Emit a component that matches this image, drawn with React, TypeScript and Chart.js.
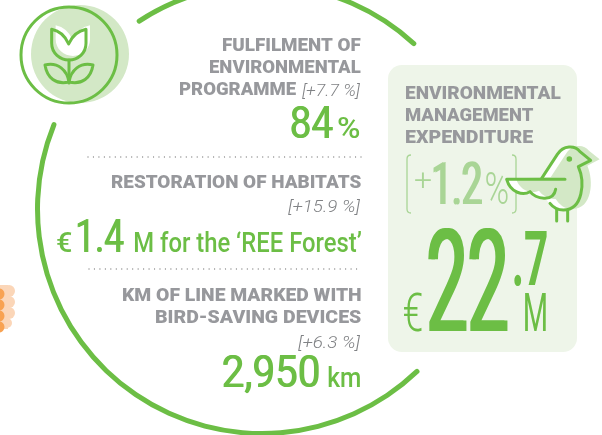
import React, { useEffect, useRef } from "react";
import { Chart, registerables } from "chart.js";

Chart.register(...registerables);

// Ring segments, degrees clockwise from the start of the upper stroke
const ringSegments = ["upper stroke", "gap right", "lower stroke", "gap left"];
const ringDegrees = [77, 92.5, 157, 33.5];
const ringStart = 326.2;

const fulfilmentHeading = ["FULFILMENT OF", "ENVIRONMENTAL", "PROGRAMME"];
const fulfilmentChange = "[+7.7 %]";
const fulfilmentValue = "84";
const fulfilmentUnit = "%";

const habitatsHeading = "RESTORATION OF HABITATS";
const habitatsChange = "[+15.9 %]";
const habitatsCurrency = "€";
const habitatsValue = "1.4";
const habitatsUnit = "M for the ‘REE Forest’";

const lineHeading = ["KM OF LINE MARKED WITH", "BIRD-SAVING DEVICES"];
const lineChange = "[+6.3 %]";
const lineValue = "2,950";
const lineUnit = "km";

const panelHeading = ["ENVIRONMENTAL", "MANAGEMENT", "EXPENDITURE"];
const panelChangeParts = ["+", "1.2", "%"];
const panelCurrency = "€";
const panelWhole = "22";
const panelDecimal = ".7";
const panelUnit = "M";

const GREEN = "#6cbe45";
const PALE = "#a9d596";
const GREY = "#97989c";
const ITALIC = "#808285";
const SHADE = "#d3e8c6";

function fit(
  ctx: CanvasRenderingContext2D,
  text: string,
  x0: number,
  x1: number,
  base: number,
  font: string,
  color: string,
  thicken = 0
) {
  ctx.save();
  ctx.font = font;
  ctx.fillStyle = color;
  ctx.textAlign = "left";
  ctx.textBaseline = "alphabetic";
  const m = ctx.measureText(text);
  const w = m.actualBoundingBoxRight + m.actualBoundingBoxLeft;
  const sx = (x1 - thicken - x0) / w;
  if (thicken) {
    ctx.shadowColor = color;
    ctx.shadowBlur = 0;
    ctx.shadowOffsetX = thicken;
  }
  ctx.translate(x0, base);
  ctx.scale(sx, 1);
  ctx.fillText(text, m.actualBoundingBoxLeft, 0);
  ctx.restore();
}

function dotted(ctx: CanvasRenderingContext2D, x0: number, x1: number, y: number) {
  ctx.save();
  ctx.strokeStyle = "#8a8a8a";
  ctx.lineWidth = 1.3;
  ctx.lineCap = "round";
  ctx.setLineDash([0.01, 5.45]);
  ctx.beginPath();
  ctx.moveTo(x0, y);
  ctx.lineTo(x1, y);
  ctx.stroke();
  ctx.restore();
}

function tulipPath(ctx: CanvasRenderingContext2D, dx: number, dy: number) {
  const X = (v: number) => v / 3 + dx;
  const Y = (v: number) => v / 3 + dy;
  ctx.beginPath();
  ctx.moveTo(X(155), Y(88));
  ctx.lineTo(X(155), Y(130));
  ctx.bezierCurveTo(X(155), Y(160), X(180), Y(180), X(207), Y(180));
  ctx.bezierCurveTo(X(234), Y(180), X(258), Y(160), X(258), Y(130));
  ctx.lineTo(X(258), Y(88));
  ctx.quadraticCurveTo(X(222), Y(95), X(206), Y(132));
  ctx.quadraticCurveTo(X(190), Y(95), X(155), Y(88));
  ctx.closePath();
}

function drawTulip(ctx: CanvasRenderingContext2D) {
  ctx.save();
  ctx.fillStyle = SHADE;
  ctx.beginPath();
  ctx.arc(80, 54, 49, 0, Math.PI * 2);
  ctx.fill();
  ctx.fillStyle = "#ffffff";
  tulipPath(ctx, 4, -4);
  ctx.fill();
  ctx.strokeStyle = GREEN;
  ctx.lineWidth = 3;
  ctx.lineJoin = "round";
  ctx.lineCap = "round";
  ctx.beginPath();
  ctx.arc(69, 55, 48, 0, Math.PI * 2);
  ctx.stroke();
  tulipPath(ctx, 0, 0);
  ctx.stroke();
  ctx.beginPath();
  ctx.moveTo(69, 60);
  ctx.lineTo(69, 83);
  ctx.stroke();
  ctx.beginPath();
  ctx.moveTo(45, 65);
  ctx.bezierCurveTo(58, 62, 67, 70, 69, 82);
  ctx.bezierCurveTo(56, 85, 47, 78, 45, 65);
  ctx.closePath();
  ctx.moveTo(93, 65);
  ctx.bezierCurveTo(80, 62, 71, 70, 69, 82);
  ctx.bezierCurveTo(82, 85, 91, 78, 93, 65);
  ctx.closePath();
  ctx.stroke();
  ctx.restore();
}

function birdPath(ctx: CanvasRenderingContext2D, dx: number, dy: number) {
  const X = (v: number) => 500 + v / 3 + dx;
  const Y = (v: number) => 135 + v / 3 + dy;
  ctx.beginPath();
  ctx.moveTo(X(125), Y(130));
  ctx.lineTo(X(172), Y(58));
  ctx.bezierCurveTo(X(190), Y(30), X(225), Y(30), X(240), Y(50));
  ctx.lineTo(X(272), Y(76));
  ctx.lineTo(X(235), Y(95));
  ctx.bezierCurveTo(X(255), Y(140), X(250), Y(225), X(190), Y(225));
  ctx.bezierCurveTo(X(165), Y(225), X(150), Y(210), X(140), Y(195));
  ctx.bezierCurveTo(X(120), Y(195), X(100), Y(185), X(90), Y(170));
  ctx.bezierCurveTo(X(70), Y(180), X(35), Y(175), X(20), Y(133));
  ctx.closePath();
}

function drawBird(ctx: CanvasRenderingContext2D) {
  const X = (v: number) => 500 + v / 3;
  const Y = (v: number) => 135 + v / 3;
  ctx.save();
  ctx.fillStyle = "#ffffff";
  birdPath(ctx, 0, 0);
  ctx.fill();
  ctx.fillStyle = SHADE;
  birdPath(ctx, 9, -1);
  ctx.fill();
  ctx.strokeStyle = GREEN;
  ctx.lineWidth = 3;
  ctx.lineCap = "round";
  ctx.lineJoin = "round";
  ctx.beginPath();
  ctx.moveTo(X(125), Y(130));
  ctx.lineTo(X(172), Y(58));
  ctx.bezierCurveTo(X(190), Y(30), X(225), Y(30), X(240), Y(50));
  ctx.lineTo(X(272), Y(76));
  ctx.lineTo(X(235), Y(95));
  ctx.bezierCurveTo(X(255), Y(140), X(250), Y(225), X(190), Y(225));
  ctx.bezierCurveTo(X(175), Y(225), X(160), Y(218), X(150), Y(205));
  ctx.stroke();
  ctx.beginPath();
  ctx.moveTo(X(195), Y(133));
  ctx.lineTo(X(20), Y(133));
  ctx.bezierCurveTo(X(32), Y(175), X(70), Y(182), X(90), Y(170));
  ctx.bezierCurveTo(X(105), Y(190), X(160), Y(205), X(167), Y(163));
  ctx.stroke();
  ctx.beginPath();
  ctx.moveTo(X(170), Y(225));
  ctx.lineTo(X(170), Y(258));
  ctx.moveTo(X(203), Y(225));
  ctx.lineTo(X(203), Y(258));
  ctx.stroke();
  ctx.fillStyle = GREEN;
  ctx.beginPath();
  ctx.arc(X(208), Y(72), 2.8, 0, Math.PI * 2);
  ctx.fill();
  ctx.restore();
}

function drawScallops(ctx: CanvasRenderingContext2D) {
  ctx.save();
  ctx.fillStyle = "#fbd6b8";
  [291, 302, 313, 323].forEach((y, i) => {
    ctx.beginPath();
    ctx.arc(i === 3 ? 7 : 9, y, i === 3 ? 5 : 6, 0, Math.PI * 2);
    ctx.fill();
  });
  ctx.fillRect(0, 285, 8, 44);
  ctx.fillStyle = "#f8a252";
  [294, 305, 316, 327].forEach((y) => {
    ctx.beginPath();
    ctx.arc(-1, y, 5.5, 0, Math.PI * 2);
    ctx.fill();
  });
  ctx.restore();
}

function drawPanel(ctx: CanvasRenderingContext2D) {
  ctx.save();
  ctx.fillStyle = "#eef5e9";
  ctx.beginPath();
  ctx.roundRect(388, 65, 189, 287, 14);
  ctx.fill();
  ctx.strokeStyle = PALE;
  ctx.lineWidth = 1.3;
  ctx.beginPath();
  ctx.moveTo(411, 155);
  ctx.quadraticCurveTo(407, 155, 407, 159);
  ctx.lineTo(407, 209);
  ctx.quadraticCurveTo(407, 213, 411, 213);
  ctx.moveTo(512, 155);
  ctx.quadraticCurveTo(516, 155, 516, 159);
  ctx.lineTo(516, 209);
  ctx.quadraticCurveTo(516, 213, 512, 213);
  ctx.stroke();
  ctx.restore();
}

const F = "Roboto, sans-serif";
const head = `900 18px ${F}`;
const ital = `italic 300 17px ${F}`;

const artwork = {
  id: "artwork",
  afterDatasetsDraw(chart: Chart) {
    const ctx = chart.ctx;
    drawScallops(ctx);
    drawPanel(ctx);
    drawTulip(ctx);

    fit(ctx, fulfilmentHeading[0], 222, 361, 51, head, GREY);
    fit(ctx, fulfilmentHeading[1], 209, 361, 73, head, GREY);
    fit(ctx, fulfilmentHeading[2], 179, 296, 95, head, GREY);
    fit(ctx, fulfilmentChange, 302, 361, 96, ital, ITALIC);
    fit(ctx, fulfilmentValue, 291, 333, 138, `400 44px ${F}`, GREEN, 1);
    fit(ctx, fulfilmentUnit, 338, 360, 138, `500 29px ${F}`, GREEN);

    dotted(ctx, 88, 361, 157);

    fit(ctx, habitatsHeading, 111, 361, 188, head, GREY);
    fit(ctx, habitatsChange, 288, 361, 212, ital, ITALIC);
    fit(ctx, habitatsCurrency, 57, 72, 252, `500 27px ${F}`, GREEN);
    fit(ctx, habitatsValue, 77, 124, 252, `400 46px ${F}`, GREEN, 1);
    fit(ctx, habitatsUnit, 135, 361, 252, `500 28px ${F}`, GREEN);

    dotted(ctx, 89, 361, 269);

    fit(ctx, lineHeading[0], 122, 361, 301, head, GREY);
    fit(ctx, lineHeading[1], 155, 361, 323, head, GREY);
    fit(ctx, lineChange, 298, 361, 348, ital, ITALIC);
    fit(ctx, lineValue, 223, 319, 387, `400 45px ${F}`, GREEN, 1);
    fit(ctx, lineUnit, 328, 360, 387, `500 28px ${F}`, GREEN);

    fit(ctx, panelHeading[0], 405, 561, 99, head, GREY);
    fit(ctx, panelHeading[1], 405, 534, 121, head, GREY);
    fit(ctx, panelHeading[2], 405, 533, 143, head, GREY);
    fit(ctx, panelChangeParts[0], 415, 431, 190, `300 30px ${F}`, PALE);
    fit(ctx, panelChangeParts[1], 433, 482, 204, `400 59px ${F}`, PALE, 2);
    fit(ctx, panelChangeParts[2], 486, 508, 204, `300 44px ${F}`, PALE);

    fit(ctx, panelCurrency, 404, 422, 331, `300 54px ${F}`, GREEN);
    fit(ctx, panelWhole, 428, 508, 331, `400 143px ${F}`, GREEN, 3);
    fit(ctx, panelDecimal, 514, 547, 285, `700 76px ${F}`, GREEN);
    fit(ctx, panelUnit, 525, 546, 331, `400 54px ${F}`, GREEN);

    drawBird(ctx);
  },
};

export default function App() {
  const ref = useRef<HTMLCanvasElement | null>(null);
  useEffect(() => {
    document.body.style.margin = "0";
    const chart = new Chart(ref.current as HTMLCanvasElement, {
      type: "doughnut",
      data: {
        labels: ringSegments,
        datasets: [
          {
            data: ringDegrees,
            backgroundColor: [GREEN, "rgba(0,0,0,0)", GREEN, "rgba(0,0,0,0)"],
            borderWidth: 0,
            borderRadius: 3,
          },
        ],
      },
      options: {
        animation: false,
        responsive: false,
        rotation: ringStart,
        radius: 227,
        cutout: "97.8%",
        layout: { padding: { left: 0, top: 0, right: 78, bottom: 17 } },
        plugins: { legend: { display: false }, tooltip: { enabled: false } },
      },
      plugins: [artwork],
    } as any);
    return () => chart.destroy();
  }, []);
  return (
    <canvas
      ref={ref}
      width={602}
      height={435}
      style={{ display: "block", width: 602, height: 435, position: "absolute", left: 0, top: 0 }}
    />
  );
}
